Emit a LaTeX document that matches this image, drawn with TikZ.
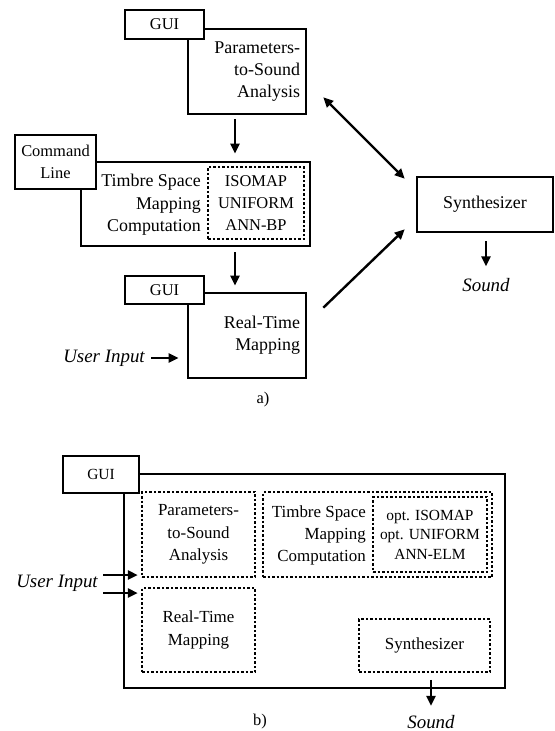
\documentclass[tikz,border=0pt]{standalone}
\usepackage{fontspec}
\setmainfont{Liberation Serif}
\usetikzlibrary{arrows.meta}
\begin{document}
\begin{tikzpicture}[x=1bp,y=-1bp,
  fa/.style={font=\fontsize{18}{22.5}\selectfont},
  fb/.style={font=\fontsize{17}{22.5}\selectfont},
  fsa/.style={font=\fontsize{16.5}{22}\selectfont},
  fsb/.style={font=\fontsize{15.5}{19.5}\selectfont},
  fit/.style={font=\fontsize{19}{22}\selectfont\itshape},
  box/.style={draw, line width=2.6bp, inner sep=0pt, fill=white},
  dbox/.style={draw, line width=1.5bp, dash pattern=on 2.5bp off 2bp, inner sep=0pt},
  arr/.style={line width=2.4bp, -{Triangle[length=10bp,width=9bp]}},
  darr/.style={line width=2.4bp, {Triangle[length=10bp,width=9bp]}-{Triangle[length=10bp,width=9bp]}},
]
\useasboundingbox (0,0) rectangle (555,731);

% ---------- part a ----------
\node[box, fa, minimum height=85bp, text width=106bp, inner xsep=6bp, align=right] (P) at (247,71.5) {Parameters-\\to-Sound\\Analysis};
\node[box, fsa, minimum width=79bp, minimum height=29bp] (G1) at (164.5,24.5) {GUI};

\node[box, minimum width=229bp, minimum height=84bp] (T) at (195.5,204) {};
\node[fa, anchor=east, align=right, inner sep=0pt] (Tl) at (201,205) {Timbre Space\\Mapping\\Computation};
\node[dbox, fsa, minimum width=96bp, minimum height=72bp, align=center] (A) at (256,203) {ISOMAP\\UNIFORM\\ANN-BP};
\node[box, fsa, minimum width=81bp, minimum height=54bp, align=center] (C) at (55.5,162) {Command\\Line};

\node[box, fa, minimum height=85bp, text width=106bp, inner xsep=6bp, align=right] (R) at (247,335.5) {Real-Time\\Mapping};
\node[box, fsa, minimum width=79bp, minimum height=28bp] (G2) at (164.5,290) {GUI};
\node[fit] (U) at (104,358) {User Input};

\node[box, fa, minimum width=136bp, minimum height=55bp] (S) at (485,204.5) {Synthesizer};
\node[fit] (So) at (486,285.5) {Sound};
\node[fsa] (La) at (263,400) {a)};

\draw[arr, shorten <=4bp, shorten >=7bp] (235,0 |- P.south) -- (235,0 |- T.north);
\draw[arr, shorten <=5bp, shorten >=6bp] (235,0 |- T.south) -- (235,0 |- R.north);
\draw[arr, shorten <=3bp, shorten >=8bp] (U.east) -- (U.east -| R.west);
\draw[darr] ([xshift=16bp,yshift=18bp]P.south east) -- ([xshift=-11bp,yshift=-3bp]S.north west);
\draw[arr] ([xshift=16bp,yshift=-16bp]R.north east) -- ([xshift=-11bp,yshift=4bp]S.south west);
\draw[arr, shorten <=8bp, shorten >=9bp] (486,0 |- S.south) -- (So.north);

% ---------- part b ----------
\node[box, minimum width=381bp, minimum height=214bp] (B) at (314.5,581) {};
\node[box, fsb, minimum width=76bp, minimum height=37bp] (G3) at (101,474.5) {GUI};
\node[dbox, fb, minimum width=113bp, minimum height=85bp, align=center] (P2) at (198.5,534.5) {Parameters-\\to-Sound\\Analysis};
\node[dbox, minimum width=229bp, minimum height=85bp] (T2) at (377.5,534.5) {};
\node[fb, anchor=east, align=right, inner sep=0pt] (T2l) at (366,535.5) {Timbre Space\\Mapping\\Computation};
\node[dbox, fsb, minimum width=114bp, minimum height=75bp, align=center] (A2) at (430,534.5) {opt. ISOMAP\\opt. UNIFORM\\ANN-ELM};
\node[dbox, fb, minimum width=113bp, minimum height=84bp, align=center] (R2) at (198.5,630) {Real-Time\\Mapping};
\node[dbox, fb, minimum width=131bp, minimum height=53bp] (S2) at (424.5,645.5) {Synthesizer};
\node[fit] (U2) at (57,583) {User Input};
\node[fit] (So2) at (431,722) {Sound};
\node[fsa] (Lb) at (260,722) {b)};

\draw[arr, shorten <=2bp, shorten >=3.5bp] (U2.east |- 0,575) -- (P2.west |- 0,575);
\draw[arr, shorten <=2bp, shorten >=3.5bp] (U2.east |- 0,593) -- (R2.west |- 0,593);
\draw[arr, shorten <=7bp, shorten >=6bp] (431,0 |- S2.south) -- (So2.north);
\end{tikzpicture}
\end{document}
